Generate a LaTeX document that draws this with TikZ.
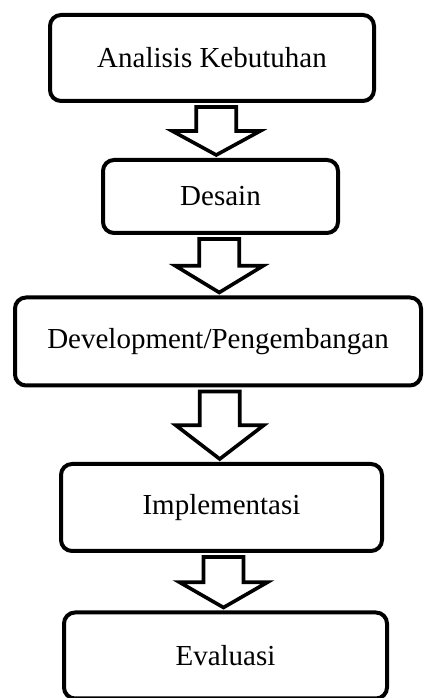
\documentclass[tikz,border=0pt]{standalone}
\usepackage{fontspec}
\setmainfont{Liberation Serif}
\usepackage{tikz}
\usetikzlibrary{calc}

% hollow block arrow from the bottom of one box to the top of the next
\newcommand{\blockarrow}[2]{%
  \draw[blockarrow] let \p1=(#1.south), \p2=(#2.north),
      \n1={(\x1+\x2)/2}, \n2={\y1-4pt}, \n3={\y2+3pt}, \n4={\n3+0.5*(\n2-\n3)} in
    (\n1-20pt,\n2) -- (\n1+20pt,\n2) -- (\n1+20pt,\n4) -- (\n1+44pt,\n4)
    -- (\n1,\n3) -- (\n1-44pt,\n4) -- (\n1-20pt,\n4) -- cycle;}

\begin{document}
\begin{tikzpicture}[
    x=1pt, y=1pt,
    stage/.style={rectangle, rounded corners=11pt, draw=black, line width=4pt, fill=white, align=center, font=\fontsize{29}{34}\selectfont},
    blockarrow/.style={draw=black, line width=3.6pt, fill=white, line join=miter}
]
    \useasboundingbox (0,0) rectangle (426,698);

    \node[stage, minimum width=324pt, minimum height=86pt] (analisis) at (212,640) {Analisis Kebutuhan};
    \node[stage, minimum width=235pt, minimum height=73pt] (desain) at (220.5,501.5) {Desain};
    \node[stage, minimum width=406pt, minimum height=88pt] (develop) at (218,356.5) {Development/Pengembangan};
    \node[stage, minimum width=321pt, minimum height=87pt] (implement) at (221.5,190.5) {Implementasi};
    \node[stage, minimum width=323pt, minimum height=86pt] (evaluasi) at (225.5,42.5) {Evaluasi};

    \blockarrow{analisis}{desain}
    \blockarrow{desain}{develop}
    \blockarrow{develop}{implement}
    \blockarrow{implement}{evaluasi}
\end{tikzpicture}
\end{document}
